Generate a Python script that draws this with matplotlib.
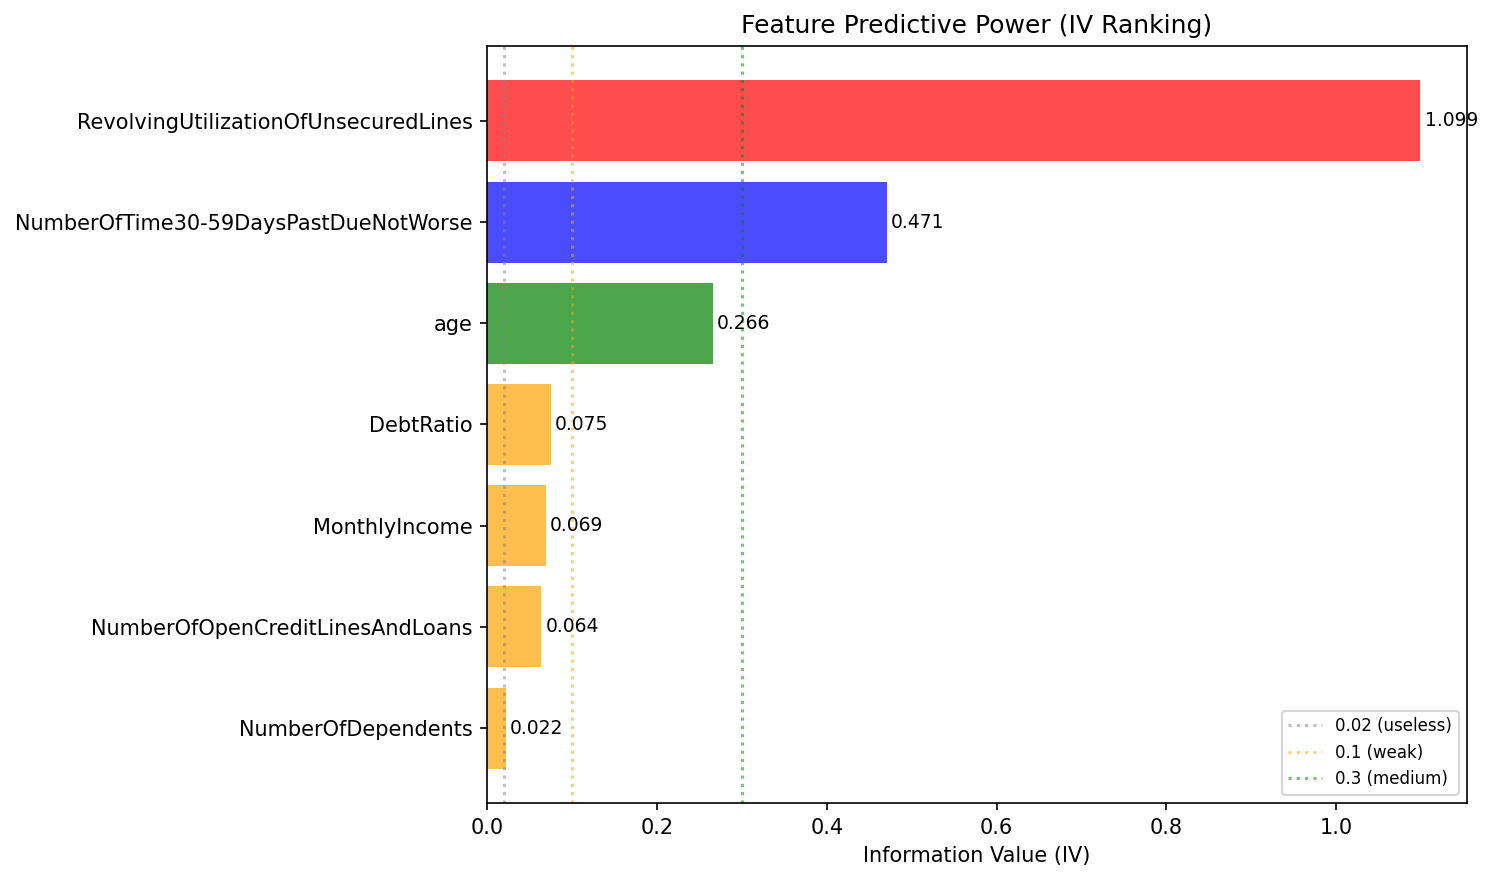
import matplotlib
matplotlib.use("Agg")
import matplotlib.pyplot as plt

features = ["NumberOfDependents", "NumberOfOpenCreditLinesAndLoans", "MonthlyIncome",
            "DebtRatio", "age", "NumberOfTime30-59DaysPastDueNotWorse",
            "RevolvingUtilizationOfUnsecuredLines"]
iv_values = [0.022, 0.064, 0.069, 0.075, 0.266, 0.471, 1.099]
bar_colors = ["orange", "orange", "orange", "orange", "green", "blue", "red"]
thresholds = [0.02, 0.1, 0.3]
threshold_labels = ["0.02 (useless)", "0.1 (weak)", "0.3 (medium)"]
threshold_colors = ["gray", "orange", "green"]

fig = plt.figure(figsize=(1493 / 150, 881 / 150), dpi=150)
ax = fig.add_axes([487 / 1493, 1 - 803 / 881, (1467 - 487) / 1493, (803 - 46) / 881])

ax.barh(features, iv_values, color=bar_colors, alpha=0.7)
for i, v in enumerate(iv_values):
    ax.text(v + 0.005, i, f"{v:.3f}", va="center", fontsize=9)

for t, lab, c in zip(thresholds, threshold_labels, threshold_colors):
    ax.axvline(t, color=c, linestyle=":", alpha=0.5, label=lab)

ax.set_xlabel("Information Value (IV)")
ax.set_title("Feature Predictive Power (IV Ranking)")
ax.legend(loc="lower right", fontsize=8)

fig.savefig("out.png", dpi=150)
